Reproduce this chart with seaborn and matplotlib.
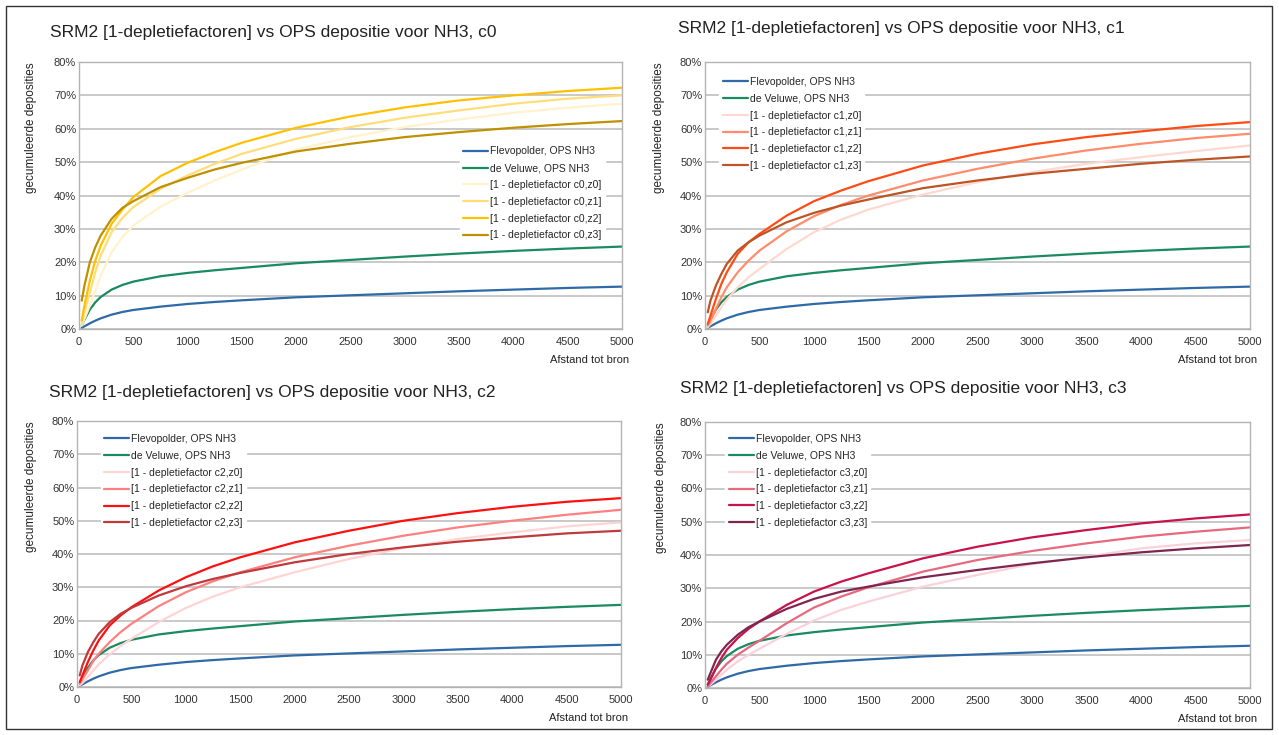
import numpy as np
import pandas as pd
import matplotlib
matplotlib.use('Agg')
import matplotlib.pyplot as plt
import seaborn as sns
from matplotlib.ticker import PercentFormatter

# afstand tot bron (m)
afstand = [25, 50, 100, 150, 200, 300, 400, 500, 750, 1000, 1250, 1500, 2000, 2500, 3000, 3500, 4000, 4500, 5000]

# OPS NH3, same in every chart (%)
flevopolder = [0.4, 0.8, 1.7, 2.5, 3.2, 4.3, 5.1, 5.7, 6.7, 7.5, 8.1, 8.6, 9.5, 10.1, 10.7, 11.3, 11.8, 12.3, 12.7]
veluwe = [1.0, 2.8, 5.8, 8.0, 9.6, 11.8, 13.2, 14.2, 15.8, 16.8, 17.6, 18.3, 19.7, 20.7, 21.7, 22.6, 23.4, 24.1, 24.7]

# [1 - depletiefactor cN,zM] (%)
c0_z0 = [1.0, 3.0, 7.0, 11.5, 16.0, 23.0, 27.5, 31.0, 36.7, 40.8, 44.5, 47.8, 53.8, 57.5, 60.5, 62.8, 64.8, 66.3, 67.5]
c0_z1 = [1.5, 5.0, 11.0, 17.0, 22.0, 29.0, 33.3, 36.5, 42.0, 46.0, 49.5, 52.5, 57.0, 60.5, 63.3, 65.5, 67.5, 69.0, 70.0]
c0_z2 = [2.5, 7.0, 14.5, 20.5, 25.0, 31.5, 35.8, 39.5, 45.8, 49.8, 53.0, 55.8, 60.3, 63.7, 66.4, 68.5, 70.0, 71.3, 72.3]
c0_z3 = [8.5, 13.0, 20.0, 24.5, 28.0, 33.0, 36.3, 38.3, 42.5, 45.3, 47.8, 49.8, 53.2, 55.5, 57.5, 59.0, 60.3, 61.4, 62.3]

c1_z0 = [0.5, 1.5, 4.0, 6.5, 8.8, 12.5, 15.5, 18.0, 24.0, 29.0, 32.8, 35.8, 40.3, 44.0, 47.0, 49.5, 51.5, 53.3, 55.0]
c1_z1 = [1.0, 2.5, 6.0, 9.5, 12.5, 17.0, 20.5, 23.5, 29.3, 33.8, 37.2, 40.0, 44.5, 48.0, 51.0, 53.5, 55.5, 57.2, 58.5]
c1_z2 = [1.5, 4.0, 9.0, 13.5, 17.0, 22.5, 26.0, 28.5, 34.0, 38.3, 41.5, 44.3, 49.0, 52.5, 55.3, 57.5, 59.2, 60.8, 62.0]
c1_z3 = [5.0, 8.5, 13.0, 16.5, 19.5, 23.5, 26.0, 28.0, 32.0, 34.8, 37.0, 38.8, 42.2, 44.5, 46.5, 48.0, 49.5, 50.7, 51.7]

c2_z0 = [0.5, 1.2, 3.0, 5.0, 6.8, 9.8, 12.3, 14.5, 19.5, 23.8, 27.2, 30.0, 34.5, 38.5, 41.8, 44.5, 46.5, 48.3, 49.5]
c2_z1 = [1.0, 2.3, 5.0, 7.8, 10.0, 13.5, 16.5, 19.0, 24.3, 28.5, 31.8, 34.5, 39.0, 42.5, 45.5, 48.0, 50.0, 51.8, 53.3]
c2_z2 = [1.5, 3.5, 7.5, 11.0, 14.0, 18.5, 21.5, 24.0, 29.0, 33.0, 36.3, 39.0, 43.5, 47.0, 50.0, 52.3, 54.2, 55.7, 56.8]
c2_z3 = [3.5, 6.5, 10.5, 13.5, 16.0, 19.5, 22.0, 23.8, 27.5, 30.3, 32.5, 34.3, 37.5, 40.0, 42.0, 43.7, 45.0, 46.2, 47.0]

c3_z0 = [0.5, 1.0, 2.5, 4.0, 5.5, 8.0, 10.0, 11.8, 16.3, 20.3, 23.5, 26.0, 30.5, 34.0, 37.3, 39.5, 42.0, 43.5, 44.5]
c3_z1 = [0.5, 1.5, 3.5, 5.5, 7.3, 10.0, 12.2, 14.2, 19.5, 24.2, 27.5, 30.3, 35.0, 38.5, 41.2, 43.5, 45.5, 47.0, 48.3]
c3_z2 = [1.0, 2.5, 6.0, 9.0, 11.5, 15.0, 17.8, 20.0, 25.0, 29.0, 32.0, 34.5, 39.0, 42.5, 45.3, 47.5, 49.5, 51.0, 52.2]
c3_z3 = [2.5, 4.5, 8.5, 11.0, 13.0, 16.0, 18.3, 20.0, 23.8, 26.8, 29.0, 30.5, 33.3, 35.5, 37.5, 39.3, 40.8, 42.0, 43.0]

charts = {
    'c0': [c0_z0, c0_z1, c0_z2, c0_z3],
    'c1': [c1_z0, c1_z1, c1_z2, c1_z3],
    'c2': [c2_z0, c2_z1, c2_z2, c2_z3],
    'c3': [c3_z0, c3_z1, c3_z2, c3_z3],
}
kleuren = {
    'c0': ['#fff2cc', '#ffde7a', '#ffc000', '#bf9000'],
    'c1': ['#ffd9cf', '#ff8c6b', '#ff4c14', '#bd5426'],
    'c2': ['#ffd4d4', '#ff8080', '#ff1010', '#c0393b'],
    'c3': ['#fad2da', '#e8697f', '#c8124a', '#7e2650'],
}

sns.set_theme(style='white')
plt.rcParams['font.family'] = ['Liberation Sans', 'DejaVu Sans']

fig = plt.figure(figsize=(12.79, 7.35), dpi=100)
W, H = 1279, 735

# axes boxes in pixels: left, right, top, bottom
boxes = {
    'c0': (79, 622, 62, 329),
    'c1': (705, 1250, 62, 329),
    'c2': (77, 621, 421, 687),
    'c3': (705, 1250, 422, 688),
}
legend_pos = {'c0': (0.692, 0.715), 'c1': (0.017, 0.975), 'c2': (0.034, 0.982), 'c3': (0.028, 0.986)}
title_xy = {'c0': (50, 33), 'c1': (678, 28), 'c2': (49, 393), 'c3': (680, 388)}
ylab_x = {'c0': 31, 'c1': 659, 'c2': 31, 'c3': 661}

for c, (l, r, t, b) in boxes.items():
    ax = fig.add_axes([l / W, 1 - b / H, (r - l) / W, (b - t) / H])
    sns.lineplot(x=afstand, y=flevopolder, ax=ax, color='#2f69a8', lw=1.6,
                 label='Flevopolder, OPS NH3')
    sns.lineplot(x=afstand, y=veluwe, ax=ax, color='#1a8a5f', lw=1.6,
                 label='de Veluwe, OPS NH3')
    for i, (vals, kl) in enumerate(zip(charts[c], kleuren[c])):
        sns.lineplot(x=afstand, y=vals, ax=ax, color=kl, lw=1.6,
                     label='[1 - depletiefactor %s,z%d]' % (c, i))
    ax.set_xlim(0, 5000)
    ax.set_ylim(0, 80)
    ax.set_xticks(range(0, 5001, 500))
    ax.set_yticks(range(0, 81, 10))
    ax.yaxis.set_major_formatter(PercentFormatter(decimals=0))
    ax.tick_params(labelsize=8, colors='#333333', length=0, pad=2)
    ax.tick_params(axis='x', length=4, color='#b3b3b3', direction='out', pad=2)
    ax.grid(axis='y', color='#c0c0c0', lw=1.2)
    for s in ax.spines.values():
        s.set_color('#b3b3b3')
        s.set_linewidth(1)
    ax.set_xlabel('')
    ax.set_ylabel('')
    w = r - l
    ax.text(-(l - ylab_x[c]) / w, 1.0, 'gecumuleerde deposities', rotation=90,
            transform=ax.transAxes, ha='center', va='top', fontsize=8.5, color='#222222')
    ax.text(1 + 7 / w, -31 / (b - t), 'Afstand tot bron', transform=ax.transAxes,
            ha='right', va='center', fontsize=8, color='#222222')
    ax.legend(loc='upper left', bbox_to_anchor=legend_pos[c], fontsize=7.5,
              frameon=True, framealpha=1, edgecolor='white', fancybox=False,
              handlelength=2.4, handletextpad=0.2, labelspacing=0.65,
              borderpad=0.3)
    tx, ty = title_xy[c]
    fig.text(tx / W, 1 - ty / H, 'SRM2 [1-depletiefactoren] vs OPS depositie voor NH3, %s' % c,
             fontsize=12.5, color='#222222', va='center', ha='left')

# outer frame
fig.patches.append(plt.Rectangle((6 / W, 6 / H), 1 - 13 / W, 1 - 12 / H, transform=fig.transFigure,
                                 fill=False, edgecolor='#333333', lw=1))

fig.savefig('out.png', dpi=100)
